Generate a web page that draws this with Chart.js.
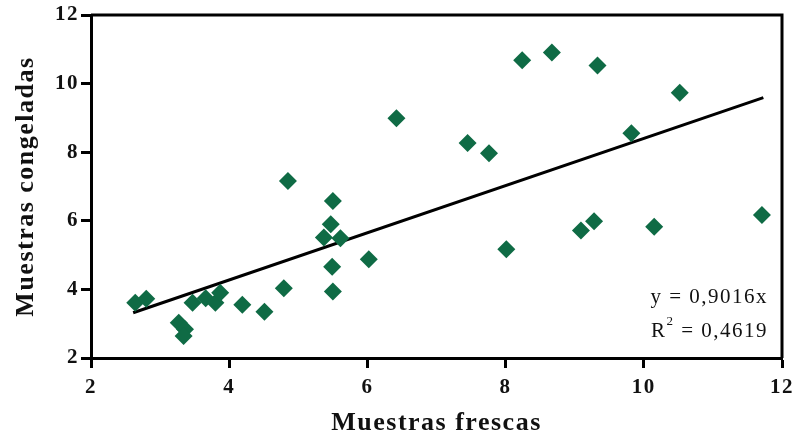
<!DOCTYPE html>
<html>
<head>
<meta charset="utf-8">
<script src="https://cdn.jsdelivr.net/npm/chart.js@4"></script>
<style>
  html, body { margin: 0; padding: 0; background: #fff; }
  #wrap { width: 800px; height: 442px; }
</style>
</head>
<body>
<div id="wrap"><canvas id="scatterChart"></canvas></div>
<script>
// ---------------------- DATA ----------------------
const frescas = [
  2.64, 2.80, 3.27, 3.36, 3.34, 3.47, 3.66, 3.80, 3.87, 4.19, 4.51, 4.79,
  4.85, 5.37, 5.47, 5.61, 5.50, 5.49, 5.50, 6.02, 6.42, 7.45, 7.76, 8.01,
  8.24, 8.67, 9.09, 9.28, 9.33, 9.82, 10.15, 10.52, 11.71
];
const congeladas = [
  3.61, 3.73, 3.03, 2.84, 2.64, 3.61, 3.74, 3.61, 3.90, 3.55, 3.35, 4.03,
  7.16, 5.51, 5.90, 5.49, 6.58, 4.66, 3.94, 4.88, 8.99, 8.27, 7.97, 5.17,
  10.68, 10.91, 5.72, 5.99, 10.53, 8.55, 5.83, 9.73, 6.17
];
const fitX = [2.61, 11.73];
const fitY = [3.32, 9.59];
const xTicks = [2, 4, 6, 8, 10, 12];
const yTicks = [2, 4, 6, 8, 10, 12];
const equationLines = ["y = 0,9016x", "R", "2", " = 0,4619"];

const serif = "'Liberation Serif', 'Times New Roman', serif";
const green = "#0f6b45";

// the original text is a bit wider than Times, spread the letters out
const spacingPlugin = {
  id: "spacing",
  beforeDraw(chart) {
    chart.ctx.letterSpacing = "1.5px";
  },
};

// frame on top and right side of the plot + regression text
const framePlugin = {
  id: "frame",
  afterDraw(chart) {
    const { ctx, chartArea: a } = chart;
    ctx.save();
    ctx.strokeStyle = "#000";
    ctx.lineWidth = 3;
    ctx.beginPath();
    ctx.moveTo(a.left, a.top);
    ctx.lineTo(a.right, a.top);
    ctx.lineTo(a.right, a.bottom);
    ctx.stroke();

    ctx.fillStyle = "#111";
    ctx.textBaseline = "alphabetic";
    ctx.textAlign = "right";
    ctx.font = "21px " + serif;
    const rx = a.right - 14;
    ctx.fillText(equationLines[0], rx, 303);
    const rest = equationLines[3];
    const restW = ctx.measureText(rest).width;
    ctx.fillText(rest, rx, 337);
    ctx.font = "13px " + serif;
    const supW = ctx.measureText(equationLines[2]).width;
    ctx.fillText(equationLines[2], rx - restW, 325);
    ctx.font = "21px " + serif;
    ctx.fillText(equationLines[1], rx - restW - supW, 337);
    ctx.restore();
  },
};

const points = frescas.map((x, i) => ({ x, y: congeladas[i] }));
const fitLine = fitX.map((x, i) => ({ x, y: fitY[i] }));

new Chart(document.getElementById("scatterChart"), {
  type: "scatter",
  data: {
    datasets: [
      {
        type: "line",
        data: fitLine,
        borderColor: "#000",
        borderWidth: 3,
        pointRadius: 0,
        fill: false,
        order: 2,
      },
      {
        data: points,
        pointStyle: "rectRot",
        pointRadius: 9,
        pointBackgroundColor: green,
        pointBorderWidth: 0,
        order: 1,
      },
    ],
  },
  options: {
    responsive: true,
    maintainAspectRatio: false,
    animation: false,
    layout: { padding: { top: 15, right: 18, left: 0, bottom: 0 } },
    plugins: { legend: { display: false }, tooltip: { enabled: false } },
    scales: {
      x: {
        type: "linear",
        min: 2,
        max: 12,
        afterFit(s) { s.height = 84; },
        afterBuildTicks(s) { s.ticks = xTicks.map((v) => ({ value: v })); },
        border: { color: "#000", width: 3 },
        grid: { drawOnChartArea: false, tickLength: 10, tickWidth: 3, tickColor: "#000" },
        ticks: { color: "#111", padding: 7, font: { family: serif, size: 21, weight: "bold" } },
        title: {
          display: true,
          text: "Muestras frescas",
          color: "#111",
          padding: { top: 0, bottom: 3 },
          font: { family: serif, size: 26, weight: "bold" },
        },
      },
      y: {
        type: "linear",
        min: 2,
        max: 12,
        afterFit(s) { s.width = 91; },
        afterBuildTicks(s) { s.ticks = yTicks.map((v) => ({ value: v })); },
        border: { color: "#000", width: 3 },
        grid: { drawOnChartArea: false, tickLength: 10, tickWidth: 3, tickColor: "#000" },
        ticks: { color: "#111", padding: 2, font: { family: serif, size: 21, weight: "bold" } },
        title: {
          display: true,
          text: "Muestras congeladas",
          color: "#111",
          padding: { top: 11, bottom: 0 },
          font: { family: serif, size: 26, weight: "bold" },
        },
      },
    },
  },
  plugins: [spacingPlugin, framePlugin],
});
</script>
</body>
</html>
